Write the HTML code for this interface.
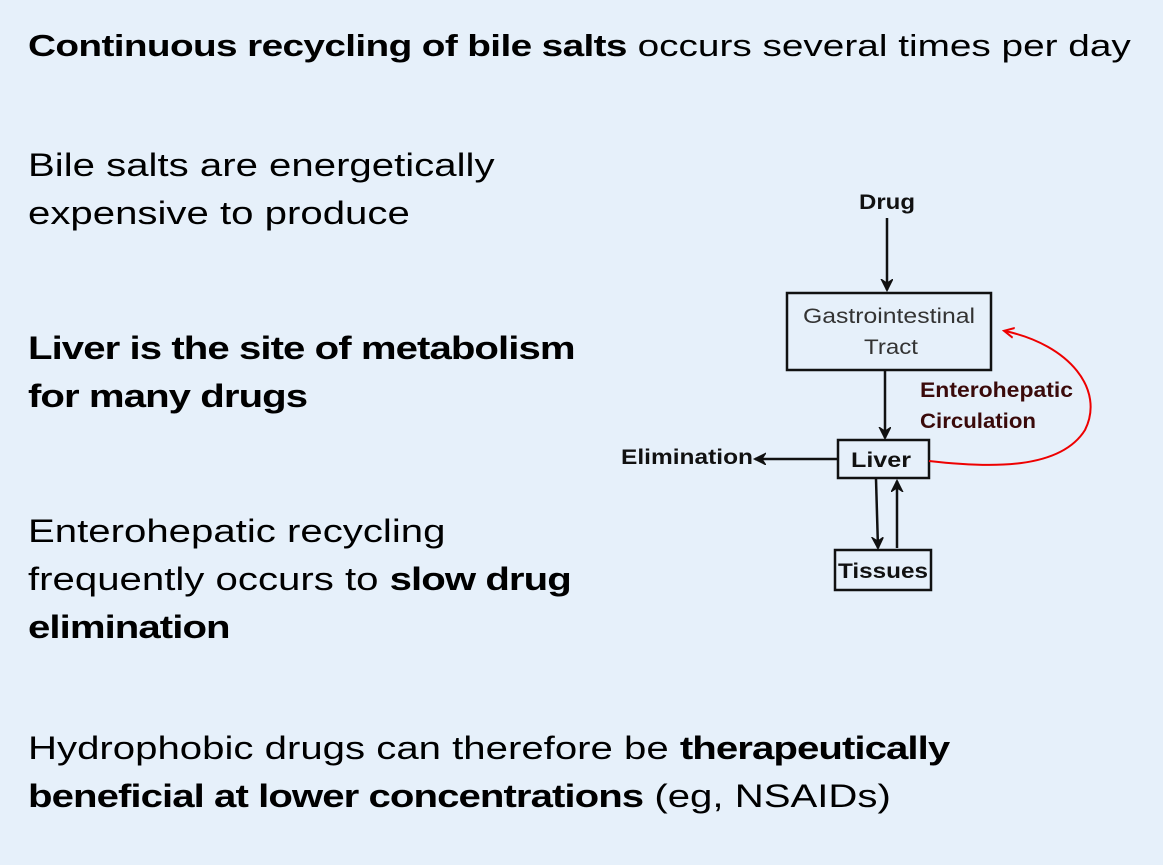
<!DOCTYPE html>
<html><head><meta charset="utf-8"><style>
body{margin:0;width:1163px;height:865px;background:#e6f0fa;position:relative;overflow:hidden;font-family:"Liberation Sans",sans-serif;color:#000}
.t{position:absolute;left:28px;font-size:32px;line-height:48px;white-space:nowrap;transform:scaleX(1.255);transform-origin:0 0}
b{font-weight:bold;letter-spacing:-0.75px}
</style></head><body>
<div class="t" style="top:22px;font-size:31px;transform:scaleX(1.25)"><b style="letter-spacing:-0.5px">Continuous recycling of bile salts</b> occurs several times per day</div>
<div class="t" style="top:141px">Bile salts are energetically<br>expensive to produce</div>
<div class="t" style="top:324px"><b>Liver is the site of metabolism<br>for many drugs</b></div>
<div class="t" style="top:507px">Enterohepatic recycling<br>frequently occurs to <b>slow drug<br>elimination</b></div>
<div class="t" style="top:724px">Hydrophobic drugs can therefore be <b>therapeutically<br>beneficial at lower concentrations</b> (eg, NSAIDs)</div>
<svg width="1163" height="865" style="position:absolute;left:0;top:0" font-family="Liberation Sans, sans-serif">
<defs>
<marker id="a" markerWidth="14" markerHeight="14" refX="11" refY="6" orient="auto" markerUnits="userSpaceOnUse"><path d="M0,0 L12,6 L0,12 L4,6 Z" fill="#111" stroke="#111" stroke-width="1"/></marker>
<marker id="r" markerWidth="12" markerHeight="12" refX="9" refY="6" orient="auto" markerUnits="userSpaceOnUse"><path d="M0,1 L10,6 L0,11" fill="none" stroke="#e00" stroke-width="2"/></marker>
</defs>
<g stroke="#111" stroke-width="2.5" fill="none">
<rect x="787" y="293" width="204" height="77"/>
<rect x="838" y="440" width="91" height="38"/>
<rect x="835" y="550" width="96" height="40"/>
<line x1="887" y1="218" x2="887" y2="290" marker-end="url(#a)"/>
<line x1="885" y1="370" x2="885" y2="438" marker-end="url(#a)"/>
<line x1="837" y1="459" x2="755" y2="459" marker-end="url(#a)"/>
<line x1="876" y1="479" x2="878" y2="548" marker-end="url(#a)"/>
<line x1="897" y1="548" x2="897" y2="481" marker-end="url(#a)"/>
</g>
<path d="M929,461 C990,468 1060,470 1085,430 C1105,390 1070,345 1005,331" stroke="#e00" stroke-width="2" fill="none" marker-end="url(#r)"/>
<g font-size="21" font-weight="bold" fill="#111">
<text x="859" y="209" textLength="56" lengthAdjust="spacingAndGlyphs">Drug</text>
<text x="851" y="467" textLength="60" lengthAdjust="spacingAndGlyphs">Liver</text>
<text x="838" y="578" textLength="90" lengthAdjust="spacingAndGlyphs">Tissues</text>
<text x="621" y="464" textLength="132" lengthAdjust="spacingAndGlyphs">Elimination</text>
<text x="920" y="397" fill="#3a0a0a" textLength="153" lengthAdjust="spacingAndGlyphs">Enterohepatic</text>
<text x="920" y="428" fill="#3a0a0a" textLength="116" lengthAdjust="spacingAndGlyphs">Circulation</text>
</g>
<g font-size="21" fill="#333">
<text x="803" y="323" textLength="172" lengthAdjust="spacingAndGlyphs">Gastrointestinal</text>
<text x="864" y="354" textLength="54" lengthAdjust="spacingAndGlyphs">Tract</text>
</g>
</svg>
</body></html>
